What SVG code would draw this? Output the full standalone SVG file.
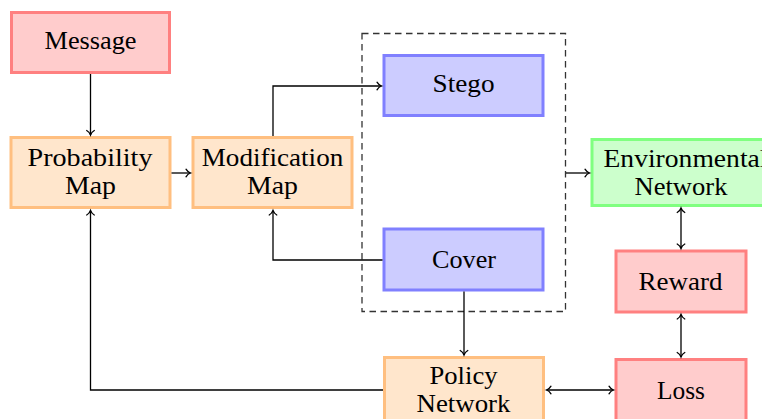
<svg xmlns="http://www.w3.org/2000/svg" width="762" height="419" viewBox="0 0 762 419">
<style>
.n rect{stroke-width:3}
.red rect{fill:#ffcccc;stroke:#ff8080}
.org rect{fill:#ffe6cc;stroke:#ffbf80}
.blu rect{fill:#ccccff;stroke:#8080ff}
.grn rect{fill:#ccffcc;stroke:#80ff80}
text{font-family:"Liberation Serif","Times New Roman",serif;font-size:25.5px;fill:#000;text-anchor:middle}
.c path{fill:none;stroke:#000;stroke-width:1.3}
.a{marker-end:url(#ah)}
.d{marker-start:url(#ah);marker-end:url(#ah)}
</style>
<defs>
<marker id="ah" markerUnits="userSpaceOnUse" markerWidth="12" markerHeight="12" viewBox="-6 -6 12 12" refX="0" refY="0" orient="auto-start-reverse" overflow="visible">
<path d="M-4.5,-3.8 C-3.2,-1.6 -1.2,-0.4 0,0 C-1.2,0.4 -3.2,1.6 -4.5,3.8" fill="none" stroke="#000" stroke-width="1.3" stroke-linecap="round"/>
</marker>
</defs>
<rect x="362" y="33.5" width="203.5" height="278" fill="none" stroke="#333" stroke-width="1.3" stroke-dasharray="6.5,4.5"/>
<g id="message" class="n red"><rect x="11.5" y="12.5" width="158" height="60"/><text x="90.5" y="49" textLength="92" lengthAdjust="spacingAndGlyphs">Message</text></g>
<g id="probability-map" class="n org"><rect x="11" y="137.5" width="159" height="70"/><text x="90" y="166" textLength="125" lengthAdjust="spacingAndGlyphs">Probability</text><text x="90.5" y="194" textLength="51" lengthAdjust="spacingAndGlyphs">Map</text></g>
<g id="modification-map" class="n org"><rect x="193" y="137.5" width="159" height="70"/><text x="272.5" y="166" textLength="141.5" lengthAdjust="spacingAndGlyphs">Modification</text><text x="272.5" y="194" textLength="51" lengthAdjust="spacingAndGlyphs">Map</text></g>
<g id="stego" class="n blu"><rect x="384" y="55.5" width="159" height="60"/><text x="463.5" y="92" textLength="62" lengthAdjust="spacingAndGlyphs">Stego</text></g>
<g id="cover" class="n blu"><rect x="384" y="229" width="159" height="61"/><text x="464" y="268" textLength="64" lengthAdjust="spacingAndGlyphs">Cover</text></g>
<g id="environmental-network" class="n grn"><rect x="592" y="139.5" width="178" height="66"/><text x="603.5" y="167" style="text-anchor:start" textLength="164" lengthAdjust="spacingAndGlyphs">Environmental</text><text x="681" y="195" textLength="93" lengthAdjust="spacingAndGlyphs">Network</text></g>
<g id="reward" class="n red"><rect x="616" y="251" width="130" height="61"/><text x="680.5" y="289.5" textLength="84" lengthAdjust="spacingAndGlyphs">Reward</text></g>
<g id="loss" class="n red"><rect x="616" y="359.5" width="130" height="62"/><text x="681" y="398.5" textLength="48" lengthAdjust="spacingAndGlyphs">Loss</text></g>
<g id="policy-network" class="n org"><rect x="384.5" y="357.5" width="159" height="72"/><text x="463.5" y="384" textLength="68" lengthAdjust="spacingAndGlyphs">Policy</text><text x="463.5" y="412" textLength="94" lengthAdjust="spacingAndGlyphs">Network</text></g>
<g id="connectors" class="c">
<path class="a" d="M90.5,74 V135"/>
<path class="a" d="M171.5,173 H190.5"/>
<path class="a" d="M273,136 V86 H381.5"/>
<path class="a" d="M566,173 H589.5"/>
<path class="a" d="M382.5,260 H273 V210.5"/>
<path class="a" d="M464,291.5 V355"/>
<path class="a" d="M383,390 H90.5 V210.5"/>
<path class="d" d="M546.5,390 H613.5"/>
<path class="d" d="M681,208 V248.5"/>
<path class="d" d="M681,314.5 V357"/>
</g>
</svg>
